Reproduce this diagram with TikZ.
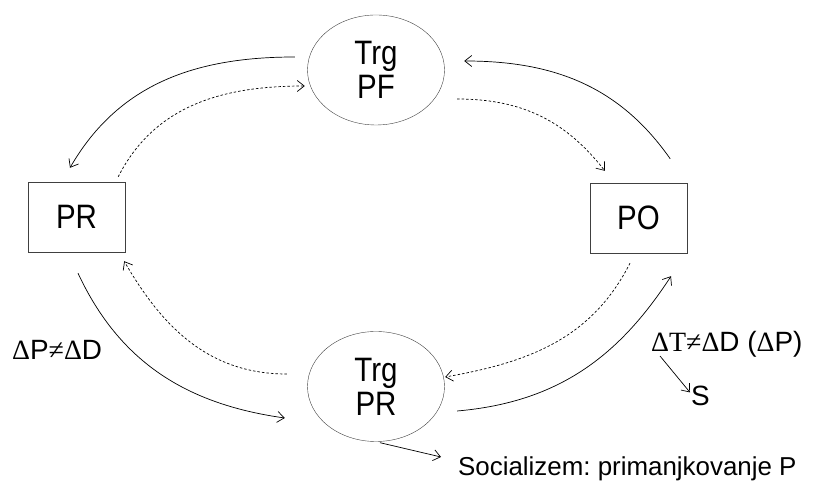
\documentclass[tikz,border=0pt]{standalone}
\usepackage{fontspec}
\setmainfont{Liberation Sans}
\newfontfamily\boxfont[FakeStretch=0.87]{Liberation Sans}
\newfontfamily\timesfont{Liberation Serif}
\usetikzlibrary{shapes.geometric, arrows.meta}
\frenchspacing

\begin{document}
\begin{tikzpicture}[x=1bp, y=1bp,
  >={Straight Barb[length=7bp, width=11bp]},
  market/.style={draw=black!75, ellipse, minimum width=137bp, minimum height=110bp, align=center, font=\boxfont\fontsize{34}{34}\selectfont},
  sector/.style={draw=black!75, minimum width=97bp, minimum height=70bp, font=\boxfont\fontsize{34}{34}\selectfont},
  flow/.style={->, line width=0.7bp},
  backflow/.style={->, line width=0.7bp, dash pattern=on 2.5bp off 2bp},
  gaptext/.style={inner sep=0pt, font=\fontsize{28}{32}\selectfont}]
\useasboundingbox (0,0) rectangle (818,481);

\node[market] (trg pf) at (376, 411) {Trg\\PF};
\node[market] (trg pr) at (376, 94.5) {Trg\\PR};
\node[sector] (pr) at (76.5, 264) {PR};
\node[sector] (po) at (638.5, 263) {PO};

\node[gaptext, anchor=base west] (dpd) at (12, 121) {{\timesfont Δ}P{\timesfont ≠Δ}D};
\node[gaptext, anchor=base west] (dtp) at (651, 129) {{\timesfont ΔT≠Δ}D ({\timesfont Δ}P)};
\node[gaptext, anchor=base west] (s) at (691, 75) {S};
\node[gaptext, anchor=base west, font=\fontsize{26}{30}\selectfont] (soc) at (458, 5) {Socializem: primanjkovanje P};

\draw[flow] ([shift={(-12.5,13)}]trg pf.west) to[out=180, in=60] ([shift={(-6.5,14)}]pr.north);
\draw[backflow] ([shift={(-7,5)}]pr.north east) to[out=63, in=180] ([shift={(-2.5,-16)}]trg pf.west);

\draw[flow] ([shift={(-17,24)}]po.north east) to[out=125, in=0] ([shift={(19.5,9)}]trg pf.east);
\draw[backflow] ([shift={(12.5,-29)}]trg pf.east) to[out=0, in=128] ([shift={(15,12)}]po.north west);

\draw[backflow] ([shift={(-8.5,-10)}]po.south) to[out=243, in=10] ([shift={(0.5,9.5)}]trg pr.east);
\draw[flow] ([shift={(12.5,-24.5)}]trg pr.east) to[out=5, in=237] ([shift={(32.5,-23)}]po.south);

\draw[backflow] ([shift={(-20.5,12.5)}]trg pr.west) to[out=180, in=300] ([shift={(-1,-9)}]pr.south east);
\draw[flow] ([shift={(1.5,-21)}]pr.south) to[out=-65, in=172] ([shift={(-22.5,-31.5)}]trg pr.west);

\draw[flow] ([shift={(9,-4)}]dtp.base west) -- ([shift={(-1,4)}]s.west);
\draw[flow] ([shift={(4,-1)}]trg pr.south) -- ([shift={(-17,19)}]soc.base west);
\end{tikzpicture}
\end{document}
